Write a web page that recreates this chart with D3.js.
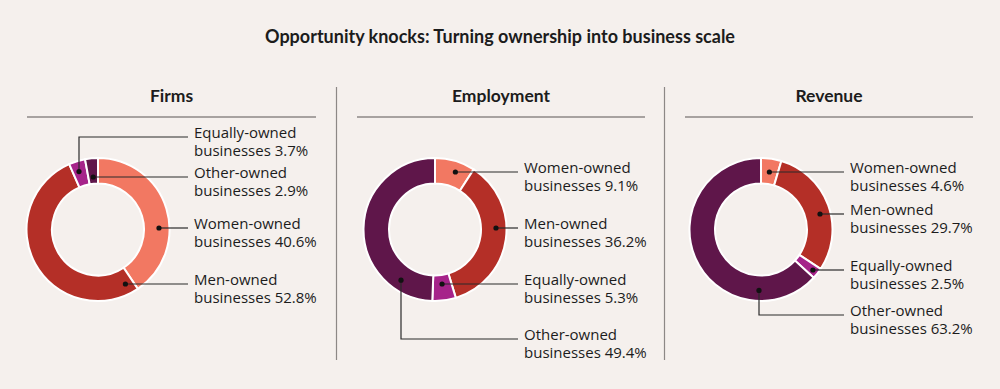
<!DOCTYPE html>
<html>
<head>
<meta charset="utf-8">
<script src="https://cdn.jsdelivr.net/npm/d3@7"></script>
<style>
  body { margin: 0; background: #f5f0ed; }
  svg { display: block; }
  text { fill: #1c1c1c; }
</style>
</head>
<body>
<svg width="1000" height="389"></svg>
<script>
const svg = d3.select("svg");

// data
const title = "Opportunity knocks: Turning ownership into business scale";
const panels = ["Firms", "Employment", "Revenue"];
const groups = ["Women-owned", "Men-owned", "Equally-owned", "Other-owned"];
const firms = [40.6, 52.8, 3.7, 2.9];
const employment = [9.1, 36.2, 5.3, 49.4];
const revenue = [4.6, 29.7, 2.5, 63.2];
const colors = ["#f27862", "#b42f27", "#a6238a", "#5f164a"];

// label layout (leader line y; elbowX for L-shaped leaders)
const firmsLabels = [
  {i: 2, y: 137, elbowX: 79},
  {i: 3, y: 177},
  {i: 0, y: 228},
  {i: 1, y: 284}
];
const employmentLabels = [
  {i: 0, y: 172},
  {i: 1, y: 228},
  {i: 2, y: 284},
  {i: 3, y: 339, elbowX: 401}
];
const revenueLabels = [
  {i: 0, y: 172},
  {i: 1, y: 214},
  {i: 2, y: 270},
  {i: 3, y: 315, elbowX: 759}
];

const panelX = [{x0: 27, x1: 316, cx: 98, tx: 194},
                {x0: 357, x1: 645, cx: 435, tx: 524},
                {x0: 685, x1: 973, cx: 761, tx: 850}];
const cy = 229.5, rOut = 71.5, rIn = 46, rDot = 61;

svg.append("text")
  .attr("x", 500).attr("y", 43)
  .attr("text-anchor", "middle")
  .style("font-family", "Lato, sans-serif")
  .style("font-weight", 700)
  .style("font-size", "18px")
  .text(title);

[336.5, 664.5].forEach(x => {
  svg.append("line")
    .attr("x1", x).attr("x2", x).attr("y1", 87).attr("y2", 360)
    .attr("stroke", "#8c8886").attr("stroke-width", 1.2);
});

const pie = d3.pie().sort(null).value(d => d);
const arc = d3.arc().innerRadius(rIn).outerRadius(rOut);

function dotFor(s, lab, cx) {
  const a0 = s.startAngle + 0.03, a1 = s.endAngle - 0.03;
  if (lab.elbowX !== undefined) {
    const dx = lab.elbowX - cx;
    const dy = Math.sqrt(rDot * rDot - dx * dx);
    return [lab.elbowX, lab.y < cy ? cy - dy : cy + dy];
  }
  const c = (cy - lab.y) / rDot;
  const cands = [Math.acos(c), 2 * Math.PI - Math.acos(c)];
  for (const t of cands) {
    if (t >= a0 && t <= a1) return [cx + rDot * Math.sin(t), lab.y];
  }
  const t = (s.startAngle + s.endAngle) / 2;
  let r = (cy - lab.y) / Math.cos(t);
  r = Math.max(rIn + 5, Math.min(rOut - 4, r));
  return [cx + r * Math.sin(t), cy - r * Math.cos(t)];
}

[firms, employment, revenue].forEach((vals, p) => {
  const P = panelX[p];
  const labels = [firmsLabels, employmentLabels, revenueLabels][p];
  const g = svg.append("g");

  g.append("text")
    .attr("x", (P.x0 + P.x1) / 2).attr("y", 102)
    .attr("text-anchor", "middle")
    .style("font-family", "Lato, sans-serif")
    .style("font-weight", 700)
    .style("font-size", "17.5px")
    .text(panels[p]);

  g.append("line")
    .attr("x1", P.x0).attr("x2", P.x1).attr("y1", 117).attr("y2", 117)
    .attr("stroke", "#8c8886").attr("stroke-width", 1.5);

  const slices = pie(vals);
  g.append("g")
    .attr("transform", `translate(${P.cx},${cy})`)
    .selectAll("path")
    .data(slices)
    .join("path")
    .attr("d", arc)
    .attr("fill", (d, i) => colors[i])
    .attr("stroke", "#ffffff")
    .attr("stroke-width", 2);

  const lx = P.tx - 6;
  labels.forEach(lab => {
    const s = slices[lab.i];
    const [dx, dy] = dotFor(s, lab, P.cx);
    const ly = lab.elbowX !== undefined ? lab.y : dy;
    const pts = lab.elbowX !== undefined
      ? [[dx, dy], [dx, ly], [lx, ly]]
      : [[dx, dy], [lx, ly]];
    g.append("path")
      .attr("d", d3.line()(pts))
      .attr("fill", "none")
      .attr("stroke", "#2a2a2a")
      .attr("stroke-width", 1.2);
    g.append("circle")
      .attr("cx", dx).attr("cy", dy).attr("r", 2.6)
      .attr("fill", "#111");
    const t = g.append("text")
      .attr("x", P.tx).attr("y", ly + 1)
      .style("font-family", "'Open Sans', sans-serif")
      .style("font-size", "15px");
    t.append("tspan").attr("x", P.tx).attr("dy", 0).text(groups[lab.i]);
    t.append("tspan").attr("x", P.tx).attr("dy", 18)
      .text("businesses " + vals[lab.i].toFixed(1) + "%");
  });
});
</script>
</body>
</html>
